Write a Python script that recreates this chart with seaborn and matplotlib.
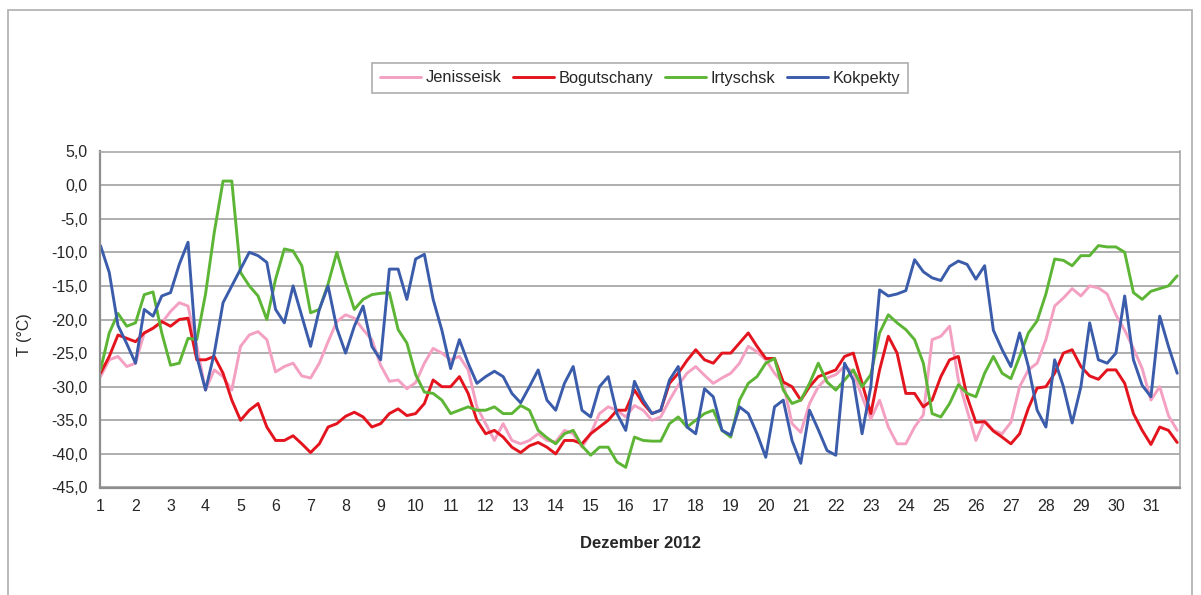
import numpy as np
import pandas as pd
import matplotlib
matplotlib.use("Agg")
import matplotlib.pyplot as plt
import seaborn as sns
from matplotlib.patches import Rectangle
from matplotlib.lines import Line2D

# 6-hourly air temperatures, December 2012 (°C)
hours = np.arange(0, 31 * 24, 6)
day = 1 + hours / 24

jenisseisk = [
    -28.5, -26.0, -25.5, -27.0, -26.5, -22.0, -21.3, -20.5,
    -18.8, -17.5, -18.0, -24.0, -30.5, -27.5, -28.5, -30.5,
    -24.0, -22.3, -21.8, -23.0, -27.8, -27.0, -26.5, -28.4,
    -28.7, -26.5, -23.3, -20.3, -19.3, -19.8, -21.5, -23.0,
    -26.8, -29.2, -29.0, -30.3, -29.4, -26.5, -24.3, -25.0,
    -26.0, -25.5, -27.5, -33.0, -35.5, -38.0, -35.5, -38.0,
    -38.5, -38.0, -37.0, -38.0, -38.2, -36.5, -37.0, -39.0,
    -37.0, -34.0, -33.0, -33.5, -34.5, -32.8, -33.5, -35.0,
    -34.5, -32.0, -29.8, -28.0, -27.0, -28.3, -29.5, -28.7,
    -28.0, -26.5, -24.0, -24.8, -26.0, -28.0, -29.5, -35.5,
    -36.8, -32.5, -30.0, -28.7, -28.2, -27.0, -27.8, -31.5,
    -34.8, -32.0, -36.0, -38.5, -38.5, -36.0, -34.2, -23.0,
    -22.5, -21.0, -29.0, -33.5, -38.0, -35.0, -36.5, -37.0,
    -35.3, -30.0, -27.5, -26.5, -23.0, -18.0, -16.8, -15.4,
    -16.5, -15.0, -15.3, -16.2, -19.3, -21.6, -24.3, -27.3,
    -32.0, -30.0, -34.3, -36.5,
]

bogutschany = [
    -28.0, -25.5, -22.3, -22.8, -23.3, -22.0, -21.3, -20.3,
    -21.0, -20.0, -19.8, -26.0, -26.0, -25.5, -28.0, -32.0,
    -35.0, -33.5, -32.5, -36.0, -38.0, -38.0, -37.3, -38.5,
    -39.8, -38.5, -36.0, -35.5, -34.4, -33.8, -34.5, -36.0,
    -35.5, -34.0, -33.3, -34.3, -34.0, -32.5, -29.0, -30.0,
    -30.0, -28.5, -31.0, -35.0, -37.0, -36.5, -37.5, -39.0,
    -39.8, -38.8, -38.3, -39.0, -40.0, -38.0, -38.0, -38.5,
    -37.0, -36.0, -35.0, -33.5, -33.5, -30.5, -32.5, -34.0,
    -33.5, -29.5, -28.0, -26.1, -24.5, -26.0, -26.5, -25.0,
    -25.0, -23.5, -22.0, -24.0, -25.8, -25.8, -29.3, -30.0,
    -32.0, -30.0, -28.5, -28.0, -27.5, -25.5, -25.0, -29.5,
    -34.0, -27.5, -22.5, -25.0, -31.0, -31.0, -33.0, -32.0,
    -28.5, -26.0, -25.5, -31.5, -35.3, -35.2, -36.6, -37.5,
    -38.5, -37.0, -33.2, -30.2, -30.0, -28.0, -25.0, -24.5,
    -27.0, -28.4, -28.9, -27.5, -27.5, -29.5, -34.0, -36.5,
    -38.6, -36.0, -36.5, -38.3,
]

irtyschsk = [
    -27.5, -22.0, -19.1, -21.0, -20.5, -16.3, -15.9, -22.0,
    -26.8, -26.5, -22.8, -23.0, -16.2, -7.0, 0.6, 0.6,
    -13.0, -15.0, -16.5, -20.0, -14.0, -9.5, -9.8, -12.0,
    -19.0, -18.5, -14.7, -10.0, -14.5, -18.5, -17.0, -16.3,
    -16.1, -16.0, -21.5, -23.5, -28.2, -30.8, -31.0, -32.0,
    -34.0, -33.5, -33.0, -33.5, -33.5, -33.0, -34.0, -34.0,
    -32.8, -33.5, -36.5, -37.6, -38.5, -37.0, -36.5, -38.8,
    -40.2, -39.0, -39.0, -41.2, -42.0, -37.5, -38.0, -38.1,
    -38.1, -35.5, -34.5, -36.0, -35.0, -34.0, -33.5, -36.5,
    -37.5, -32.0, -29.5, -28.5, -26.5, -25.8, -30.5, -32.5,
    -32.0, -29.5, -26.5, -29.3, -30.5, -29.0, -27.5, -30.0,
    -28.2, -22.0, -19.3, -20.5, -21.5, -23.0, -26.5, -34.0,
    -34.5, -32.5, -29.7, -31.0, -31.5, -28.0, -25.5, -28.0,
    -28.8, -25.5, -22.0, -20.2, -16.2, -11.0, -11.2, -12.0,
    -10.5, -10.5, -9.0, -9.2, -9.2, -10.0, -16.0, -17.0,
    -15.8, -15.4, -15.0, -13.5,
]

kokpekty = [
    -9.0, -13.0, -20.9, -23.6, -26.5, -18.5, -19.5, -16.5,
    -16.0, -11.8, -8.5, -25.5, -30.5, -25.0, -17.5, -15.0,
    -12.5, -10.0, -10.5, -11.5, -18.5, -20.5, -15.0, -19.5,
    -24.0, -18.5, -15.0, -21.3, -25.0, -21.0, -18.0, -24.0,
    -26.0, -12.5, -12.5, -17.0, -11.0, -10.3, -17.0, -21.6,
    -27.3, -23.0, -26.5, -29.5, -28.5, -27.7, -28.5, -31.0,
    -32.4, -30.0, -27.5, -32.0, -33.5, -29.5, -27.0, -33.5,
    -34.5, -30.0, -28.5, -34.0, -36.5, -29.2, -32.0, -34.0,
    -33.5, -29.0, -27.0, -36.0, -37.0, -30.3, -31.5, -36.5,
    -37.2, -33.0, -34.0, -37.0, -40.5, -33.0, -32.0, -38.0,
    -41.4, -33.5, -36.4, -39.5, -40.2, -26.5, -29.0, -37.0,
    -30.0, -15.6, -16.5, -16.2, -15.7, -11.1, -12.9, -13.8,
    -14.2, -12.1, -11.3, -11.8, -14.0, -12.0, -21.6, -24.5,
    -27.0, -22.0, -27.0, -33.5, -36.0, -26.0, -30.0, -35.4,
    -30.0, -20.5, -26.0, -26.5, -25.0, -16.5, -26.0, -29.8,
    -31.5, -19.5, -24.0, -28.0,
]

stations = ["Jenisseisk", "Bogutschany", "Irtyschsk", "Kokpekty"]
colors = ["#F4A0C2", "#E3141E", "#5DB535", "#3A5CAB"]
y_ticks = list(range(-45, 6, 5))
x_ticks = list(range(1, 32))

series = [jenisseisk, bogutschany, irtyschsk, kokpekty]
df = pd.concat(
    [pd.DataFrame({"Tag": day, "T": vals, "Station": name})
     for name, vals in zip(stations, series)],
    ignore_index=True,
)

sns.set_theme(style="white")
plt.rcParams["font.family"] = ["Liberation Sans", "DejaVu Sans"]

W, H = 1201, 595
fig = plt.figure(figsize=(W / 100, H / 100), dpi=100)
ax = fig.add_axes([100 / W, 1 - 487.5 / H, 1080 / W, 336 / H])

sns.lineplot(
    data=df, x="Tag", y="T", hue="Station", hue_order=stations,
    palette=dict(zip(stations, colors)), linewidth=2.1,
    estimator=None, sort=False, legend=False, ax=ax,
)

ax.set_xlim(0.986, 31.83)
ax.set_ylim(-45, 5)
ax.set_yticks(y_ticks)
ax.set_yticklabels([f"{v:.1f}".replace(".", ",") for v in y_ticks])
ax.set_xticks(x_ticks)
ax.set_xticklabels([str(d) for d in x_ticks])
ax.set_xlabel("")
ax.set_ylabel("")

ax.yaxis.grid(True, color="#a8a8a8", linewidth=1.3)
ax.xaxis.grid(False)
ax.set_axisbelow(True)
for side in ["left", "bottom"]:
    ax.spines[side].set_color("#8e8e8e")
    ax.spines[side].set_linewidth(1.6)
for side in ["top", "right"]:
    ax.spines[side].set_color("#a8a8a8")
    ax.spines[side].set_linewidth(1.2)

ax.tick_params(axis="both", direction="out", length=5, width=1.1,
               color="#8e8e8e", labelcolor="#262626", labelsize=11.5)
ax.tick_params(axis="y", pad=4)
ax.tick_params(axis="x", pad=3)

fig.text(25 / W, 1 - 335 / H, "T (°C)", rotation=90, ha="center",
         va="center", fontsize=11.5, color="#262626")
fig.text(640 / W, 1 - 544 / H, "Dezember 2012", ha="center", va="center",
         fontsize=12, fontweight="bold", color="#262626")

handles = [Line2D([], [], color=c, linewidth=2.1) for c in colors]
leg = fig.legend(handles, stations, loc="center", ncol=4,
                 bbox_to_anchor=(640 / W, 1 - 78 / H), frameon=True,
                 fancybox=False, shadow=False, fontsize=11.8,
                 handlelength=2.5, handletextpad=0.3, columnspacing=0.7,
                 borderpad=0.45, borderaxespad=0.0)
leg.get_frame().set_edgecolor("#9a9a9a")
leg.get_frame().set_linewidth(1.2)
for t in leg.get_texts():
    t.set_color("#262626")

fig.patches.append(Rectangle((8 / W, -0.02), (1192 - 8) / W, 1 - 10 / H + 0.02,
                             transform=fig.transFigure, fill=False,
                             edgecolor="#b4b4b4", linewidth=1.3))

fig.savefig("out.png", dpi=100)
